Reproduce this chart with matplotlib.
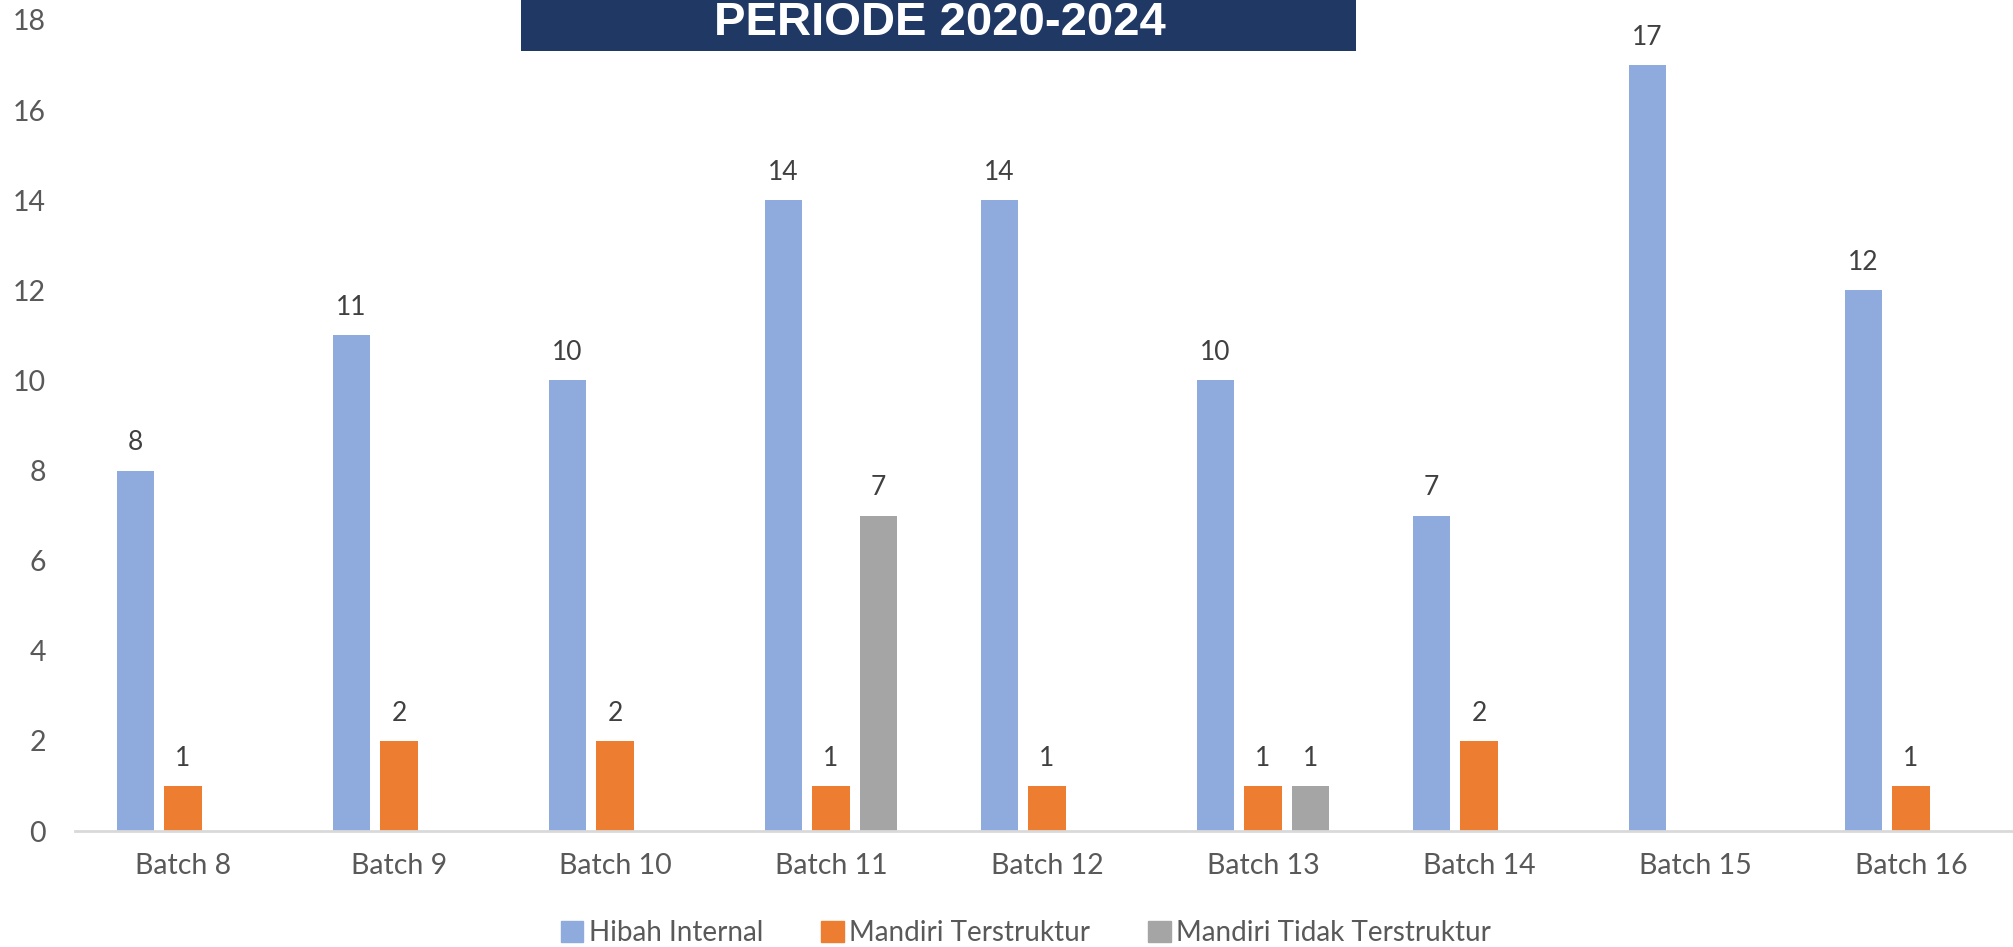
import matplotlib
matplotlib.use("Agg")
import matplotlib.pyplot as plt
from matplotlib.patches import Rectangle, Patch
import numpy as np

categories = ["Batch 8", "Batch 9", "Batch 10", "Batch 11", "Batch 12",
              "Batch 13", "Batch 14", "Batch 15", "Batch 16"]
hibah_internal = [8, 11, 10, 14, 14, 10, 7, 17, 12]
mandiri_terstruktur = [1, 2, 2, 1, 1, 1, 2, None, 1]
mandiri_tidak = [None, None, None, 7, None, 1, None, None, None]
series_names = ["Hibah Internal", "Mandiri Terstruktur", "Mandiri Tidak Terstruktur"]
colors = ["#8FAADC", "#ED7D31", "#A5A5A5"]
title = "PERIODE 2020-2024"
yticks = list(range(0, 19, 2))

W, H = 2013, 947
fig = plt.figure(figsize=(W / 100, H / 100), dpi=100)
font = ["Lato", "DejaVu Sans"]

ax_left = 75 / W
ax_bottom = (H - 831) / H
ax_top = (H - 20) / H
ax = fig.add_axes([ax_left, ax_bottom, 1 - ax_left, ax_top - ax_bottom])

x = np.arange(len(categories))
offsets = [-0.22, 0.0, 0.22]
bw = 0.175
for s, (vals, off, c) in enumerate(zip([hibah_internal, mandiri_terstruktur, mandiri_tidak], offsets, colors)):
    xs = [xi + off for xi, v in zip(x, vals) if v is not None]
    vs = [v for v in vals if v is not None]
    ax.bar(xs, vs, width=bw, color=c, zorder=2)
    for xi, v in zip(xs, vs):
        ax.annotate(str(v), (xi, v), xytext=(0, 11), textcoords="offset points",
                    ha="center", va="bottom", fontsize=19, color="#404040", family=font)

span = (W - 75) / 216.0
ax.set_xlim(-0.5, -0.5 + span)
ax.set_ylim(0, 18)
ax.set_yticks(yticks)
ax.set_xticks(x)
ax.set_xticklabels(categories)
for sp in ["top", "right", "left"]:
    ax.spines[sp].set_visible(False)
ax.spines["bottom"].set_color("#D9D9D9")
ax.spines["bottom"].set_linewidth(2)
ax.tick_params(axis="both", length=0, labelsize=20.5, labelcolor="#595959")
ax.tick_params(axis="y", pad=21)
ax.tick_params(axis="x", pad=16)
for lab in ax.get_xticklabels() + ax.get_yticklabels():
    lab.set_family(font)

handles = [Patch(color=c) for c in colors]
fig.legend(handles, series_names, loc="center", bbox_to_anchor=(1026 / W, 14 / H),
           ncol=3, frameon=False, handlelength=0.8, handleheight=0.8,
           handletextpad=0.2, columnspacing=2.1,
           prop={"family": font, "size": 20}, labelcolor="#595959")

fig.add_artist(Rectangle((521 / W, (H - 51) / H), (1356 - 521) / W, 51 / H + 0.01,
                         transform=fig.transFigure, facecolor="#203864",
                         edgecolor="none", zorder=5))
fig.text(940 / W, (H - 35) / H, title, ha="center", va="baseline", color="white",
         fontsize=34, fontweight="bold",
         family=["Liberation Sans Narrow", "Liberation Sans", "DejaVu Sans"], zorder=6)

fig.savefig("out.png", dpi=100)
